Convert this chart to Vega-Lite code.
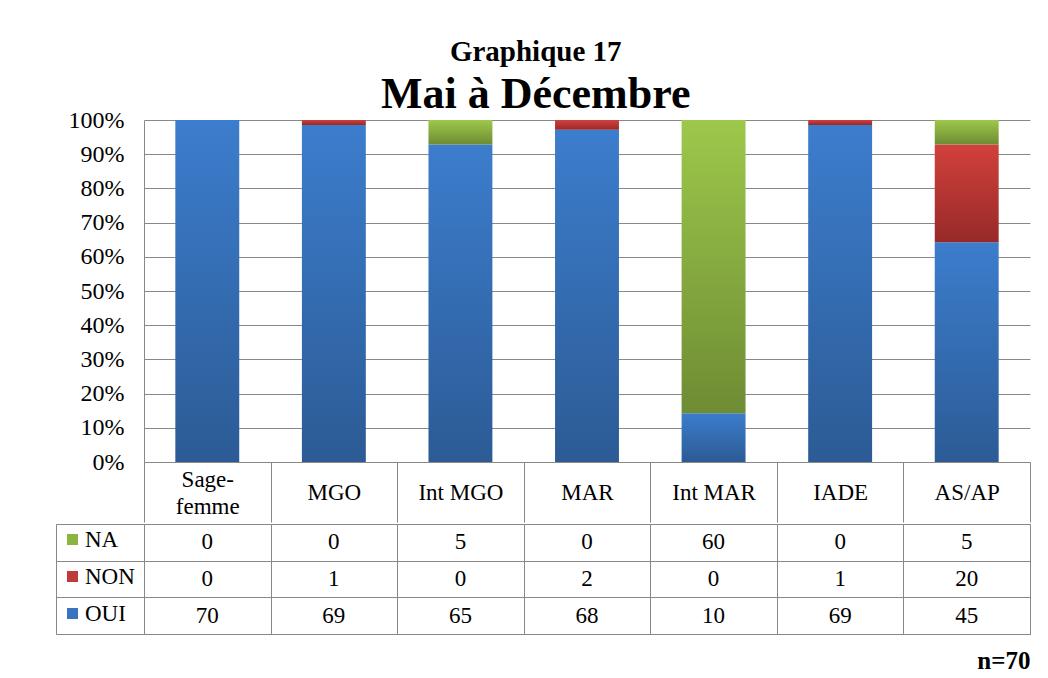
{
  "$schema": "https://vega.github.io/schema/vega-lite/v6.json",
  "padding": {"left": 55, "top": 38, "right": 19, "bottom": 5},
  "background": "white",
  "config": {"view": {"stroke": null}},
  "title": {
    "text": "Graphique 17",
    "subtitle": "Mai à Décembre",
    "anchor": "middle",
    "font": "Liberation Serif",
    "fontSize": 29,
    "fontWeight": "bold",
    "color": "black",
    "subtitleFont": "Liberation Serif",
    "subtitleFontSize": 44,
    "subtitleFontWeight": "bold",
    "subtitleColor": "black",
    "subtitlePadding": 6,
    "offset": -9,
    "dx": -7
  },
  "datasets": {
    "d": [
      {"cat": "Sage-femme", "series": "NA", "value": 0},
      {"cat": "Sage-femme", "series": "NON", "value": 0},
      {"cat": "Sage-femme", "series": "OUI", "value": 70},
      {"cat": "MGO", "series": "NA", "value": 0},
      {"cat": "MGO", "series": "NON", "value": 1},
      {"cat": "MGO", "series": "OUI", "value": 69},
      {"cat": "Int MGO", "series": "NA", "value": 5},
      {"cat": "Int MGO", "series": "NON", "value": 0},
      {"cat": "Int MGO", "series": "OUI", "value": 65},
      {"cat": "MAR", "series": "NA", "value": 0},
      {"cat": "MAR", "series": "NON", "value": 2},
      {"cat": "MAR", "series": "OUI", "value": 68},
      {"cat": "Int MAR", "series": "NA", "value": 60},
      {"cat": "Int MAR", "series": "NON", "value": 0},
      {"cat": "Int MAR", "series": "OUI", "value": 10},
      {"cat": "IADE", "series": "NA", "value": 0},
      {"cat": "IADE", "series": "NON", "value": 1},
      {"cat": "IADE", "series": "OUI", "value": 69},
      {"cat": "AS/AP", "series": "NA", "value": 5},
      {"cat": "AS/AP", "series": "NON", "value": 20},
      {"cat": "AS/AP", "series": "OUI", "value": 45}
    ]
  },
  "spacing": 0,
  "resolve": {"scale": {"x": "independent", "y": "independent", "color": "independent"}},
  "vconcat": [
    {
      "width": 886,
      "height": 342,
      "data": {"name": "d"},
      "transform": [
        {"stack": "value", "groupby": ["cat"], "sort": [{"field": "series", "order": "descending"}], "offset": "normalize", "as": ["v0", "v1"]}
      ],
      "encoding": {
        "x": {
          "field": "cat", "type": "nominal",
          "scale": {"type": "band", "domain": ["Sage-femme", "MGO", "Int MGO", "MAR", "Int MAR", "IADE", "AS/AP"], "paddingInner": 0, "paddingOuter": 0},
          "axis": {
            "title": null, "domainColor": "#888888", "tickBand": "extent", "ticks": true, "tickSize": 60, "tickColor": "#888888",
            "labelPadding": {"condition": {"test": "datum.value === 'Sage-femme'", "value": -43}, "value": -30},
            "labelBaseline": "middle", "labelFontSize": 23, "labelColor": "black", "labelFont": "Liberation Serif",
            "labelAngle": 0, "labelLineHeight": 27,
            "labelExpr": "datum.value === 'Sage-femme' ? ['Sage-', 'femme'] : datum.value",
            "grid": false
          }
        },
        "y": {
          "field": "v0", "type": "quantitative",
          "scale": {"domain": [0, 1]},
          "axis": {
            "values": [0, 0.1, 0.2, 0.3, 0.4, 0.5, 0.6, 0.7, 0.8, 0.9, 1],
            "format": ".0%", "title": null, "grid": true, "gridColor": "#888888", "domainColor": "#888888",
            "ticks": false, "labelPadding": 20, "labelFontSize": 24, "labelColor": "black", "labelFont": "Liberation Serif"
          }
        },
        "y2": {"field": "v1"}
      },
      "layer": [
        {
          "transform": [{"filter": "datum.series === 'OUI'"}],
          "mark": {"type": "bar", "width": {"band": 0.505},
            "color": {"gradient": "linear", "x1": 0, "y1": 0, "x2": 0, "y2": 1,
              "stops": [{"offset": 0, "color": "#3c7dcd"}, {"offset": 1, "color": "#2c5b95"}]}}
        },
        {
          "transform": [{"filter": "datum.series === 'NON'"}],
          "mark": {"type": "bar", "width": {"band": 0.505},
            "color": {"gradient": "linear", "x1": 0, "y1": 0, "x2": 0, "y2": 1,
              "stops": [{"offset": 0, "color": "#d2403c"}, {"offset": 1, "color": "#962a28"}]}}
        },
        {
          "transform": [{"filter": "datum.series === 'NA'"}],
          "mark": {"type": "bar", "width": {"band": 0.505},
            "color": {"gradient": "linear", "x1": 0, "y1": 0, "x2": 0, "y2": 1,
              "stops": [{"offset": 0, "color": "#9dc84b"}, {"offset": 1, "color": "#6e8c34"}]}}
        }
      ]
    },
    {
      "width": 886,
      "height": 110,
      "view": {"stroke": "#888888"},
      "data": {"name": "d"},
      "encoding": {
        "x": {
          "field": "cat", "type": "nominal",
          "scale": {"type": "band", "domain": ["Sage-femme", "MGO", "Int MGO", "MAR", "Int MAR", "IADE", "AS/AP"], "paddingInner": 0, "paddingOuter": 0},
          "axis": {
            "labels": false, "ticks": false, "domain": false, "grid": true, "tickBand": "extent", "gridColor": "#888888",
            "title": "n=70", "titleAnchor": "end", "titleFontWeight": "bold", "titleFontSize": 25, "titleFont": "Liberation Serif",
            "titlePadding": 14, "titleColor": "black"
          }
        },
        "y": {
          "field": "series", "type": "nominal",
          "scale": {"type": "band", "domain": ["NA", "NON", "OUI"], "paddingInner": 0, "paddingOuter": 0},
          "axis": {
            "labels": false, "title": null, "grid": true, "gridColor": "#888888", "tickBand": "extent",
            "offset": 88, "tickSize": -88, "tickColor": "#888888", "domainColor": "#888888"
          }
        }
      },
      "layer": [
        {
          "mark": {"type": "text", "fontSize": 23, "color": "black", "font": "Liberation Serif"},
          "encoding": {"text": {"field": "value", "type": "quantitative"}}
        },
        {
          "mark": {"type": "square", "opacity": 0, "size": 121},
          "encoding": {
            "color": {
              "field": "series", "type": "nominal",
              "scale": {"domain": ["NA", "NON", "OUI"], "range": ["#8db443", "#c0393b", "#3a74bf"]},
              "legend": {
                "orient": "none", "legendX": -83, "legendY": 4, "title": null, "symbolType": "square", "symbolSize": 121,
                "symbolOpacity": 1, "symbolStrokeWidth": 0, "labelFontSize": 23, "labelFont": "Liberation Serif",
                "labelColor": "black", "rowPadding": 13, "labelOffset": 1
              }
            }
          }
        }
      ]
    }
  ]
}
